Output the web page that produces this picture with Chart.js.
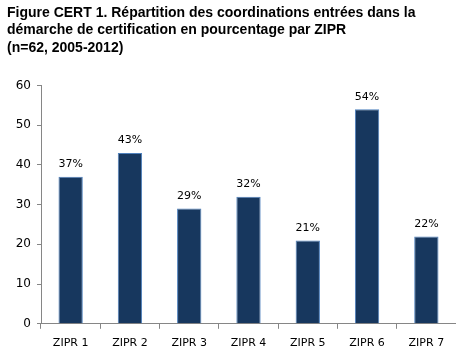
<!DOCTYPE html>
<html>
<head>
<meta charset="utf-8">
<script src="https://cdn.jsdelivr.net/npm/chart.js@4"></script>
<style>
  html, body { margin: 0; padding: 0; background: #fff; }
  #wrap { width: 456px; height: 350px; }
</style>
</head>
<body>
<div id="wrap"><canvas id="myChart" width="456" height="350"></canvas></div>
<script>
var categories = ["ZIPR 1", "ZIPR 2", "ZIPR 3", "ZIPR 4", "ZIPR 5", "ZIPR 6", "ZIPR 7"];
var percentages = [37, 43, 29, 32, 21, 54, 22];
var yTicks = [0, 10, 20, 30, 40, 50, 60];
var titleLines = [
  "Figure CERT 1. Répartition des coordinations entrées dans la",
  "démarche de certification en pourcentage par ZIPR",
  "(n=62, 2005-2012)"
];

// labels above the bars
var valueLabels = {
  id: "valueLabels",
  afterDatasetsDraw: function(chart) {
    var ctx = chart.ctx;
    var meta = chart.getDatasetMeta(0);
    ctx.save();
    ctx.font = "11px 'DejaVu Sans'";
    ctx.fillStyle = "#000";
    ctx.textAlign = "center";
    ctx.textBaseline = "bottom";
    meta.data.forEach(function(bar, i) {
      ctx.fillText(percentages[i] + "%", bar.x, bar.y - 7);
    });
    ctx.restore();
  }
};

new Chart("myChart", {
  type: "bar",
  data: {
    labels: categories,
    datasets: [{
      data: percentages,
      backgroundColor: "#17375E",
      borderColor: "#4F81BD",
      borderWidth: 1,
      categoryPercentage: 1,
      barPercentage: 0.41
    }]
  },
  options: {
    responsive: false,
    animation: false,
    layout: { padding: { left: 7, right: 0, top: 2, bottom: -8 } },
    plugins: {
      legend: { display: false },
      tooltip: { enabled: false },
      title: {
        display: true,
        text: titleLines,
        align: "start",
        color: "#000",
        font: { family: "'Liberation Sans', Arial", size: 14, weight: "bold", lineHeight: 1.25 },
        padding: { top: 2, bottom: 29 }
      }
    },
    scales: {
      x: {
        grid: { display: true, drawOnChartArea: false, drawTicks: true, tickLength: 5, color: "#868686", offset: true },
        border: { color: "#868686" },
        ticks: { color: "#000", font: { family: "'DejaVu Sans'", size: 11 }, padding: 8 }
      },
      y: {
        min: 0,
        max: 60,
        afterBuildTicks: function(axis) {
          axis.ticks = yTicks.map(function(v) { return { value: v }; });
        },
        afterFit: function(axis) { axis.width = 34; },
        grid: { display: true, drawOnChartArea: false, drawTicks: true, tickLength: 4, color: "#868686" },
        border: { color: "#868686" },
        ticks: { color: "#000", font: { family: "'DejaVu Sans'", size: 12 }, padding: 6 }
      }
    }
  },
  plugins: [valueLabels]
});
</script>
</body>
</html>
